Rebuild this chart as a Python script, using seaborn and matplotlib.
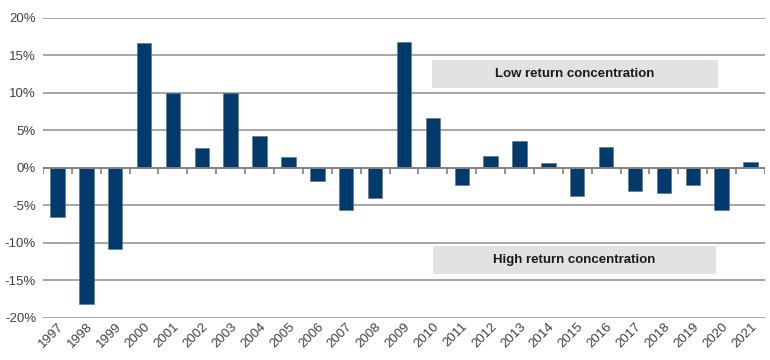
import matplotlib
matplotlib.use("Agg")
import matplotlib.pyplot as plt
import seaborn as sns
import pandas as pd
import numpy as np

years = [str(y) for y in range(1997, 2022)]
values = [-6.5, -18.1, -10.8, 16.7, 10.0, 2.6, 10.0, 4.3, 1.5, -1.8, -5.6, -4.0,
          16.8, 6.7, -2.3, 1.6, 3.6, 0.7, -3.7, 2.8, -3.1, -3.3, -2.3, -5.6, 0.8]
yticks = [-20, -15, -10, -5, 0, 5, 10, 15, 20]
ytick_labels = [f"{t}%" for t in yticks]
box_labels = ["Low return concentration", "High return concentration"]

sns.set_style("white")
plt.rcParams['font.family'] = ['Liberation Sans', 'DejaVu Sans']

df = pd.DataFrame({"year": years, "value": values})

fig = plt.figure(figsize=(7.7, 3.6), dpi=100)
ax = fig.add_axes([0.0558, 0.1167, 0.9377, 0.8333])

sns.barplot(data=df, x="year", y="value", color="#013a6b", saturation=1,
            width=0.5, edgecolor="#5a6f85", linewidth=0.4, ax=ax, zorder=3)

ax.set_ylim(-20, 20)
ax.set_xlim(-0.5, len(years) - 0.5)
ax.set_yticks(yticks)
ax.set_yticklabels(ytick_labels)
for t in yticks:
    if t != 0:
        ax.axhline(t, color="#a6a6a6", lw=1.4, zorder=1)
ax.axhline(0, color="#808080", lw=1.4, zorder=4)
# category separator ticks on the zero line
bounds = np.arange(-0.5, len(years) + 0.5, 1.0)
ax.vlines(bounds, -0.75, 0, color="#808080", lw=1.2, zorder=4)

for s in ax.spines.values():
    s.set_visible(False)
ax.set_xlabel("")
ax.set_ylabel("")
ax.tick_params(axis="both", length=0, labelsize=9.5, colors="#404040")
ax.tick_params(axis="y", pad=5)
ax.tick_params(axis="x", pad=2)
plt.setp(ax.get_xticklabels(), rotation=45, ha="right", rotation_mode="anchor")

# annotation boxes
ax.fill_between([12.98, 22.86], 10.7, 14.4, color="#e3e1e2", zorder=2, lw=0)
ax.text((12.98 + 22.86) / 2, 12.55, box_labels[0], ha="center", va="center",
        fontsize=9.5, fontweight="bold", color="#1a1a1a", zorder=5)
ax.fill_between([13.0, 22.82], -14.1, -10.4, color="#e3e1e2", zorder=2, lw=0)
ax.text((13.0 + 22.82) / 2, -12.25, box_labels[1], ha="center", va="center",
        fontsize=9.5, fontweight="bold", color="#1a1a1a", zorder=5)

fig.savefig("out.png", dpi=100)
